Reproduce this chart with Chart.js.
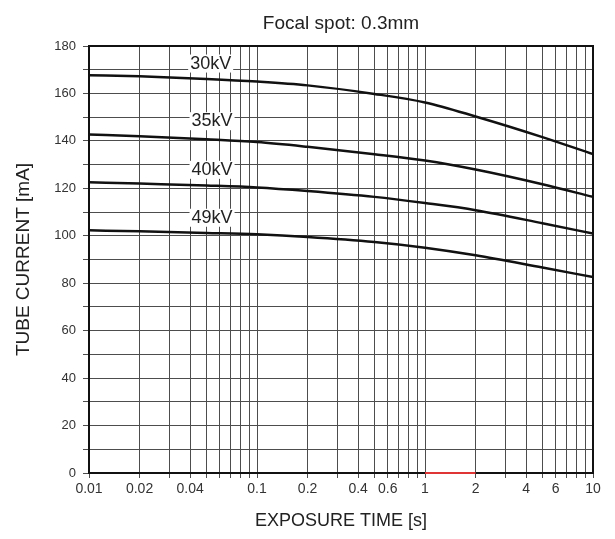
<!DOCTYPE html>
<html>
<head>
<meta charset="utf-8">
<script src="https://cdn.jsdelivr.net/npm/chart.js@4.4.1/dist/chart.umd.min.js"></script>
<style>
  html,body{margin:0;padding:0;background:#fff;}
</style>
</head>
<body>
<canvas id="chart" width="615" height="539"></canvas>
<script>
// exposure time [s] and tube current [mA]
const times = [0.01, 0.02, 0.05, 0.1, 0.2, 0.5, 1, 2, 5, 10];
const kv30 = [167.7, 167.2, 166.1, 165.0, 163.4, 159.8, 156.2, 150.3, 141.6, 134.4];
const kv35 = [142.7, 142, 140.7, 139.5, 137.5, 134.4, 131.7, 127.9, 121.7, 116.4];
const kv40 = [122.6, 122, 121.2, 120.4, 118.9, 116.4, 113.8, 110.8, 105.3, 100.9];
const kv49 = [102.3, 101.9, 101.2, 100.6, 99.5, 97.4, 95, 91.8, 86.6, 82.6];
const seriesNames = ['30kV', '35kV', '40kV', '49kV'];
const labelTimes = [0.053, 0.054, 0.054, 0.054];
const labelCurrents = [172.6, 148.3, 127.8, 107.6];
const xTickLabels = [0.01, 0.02, 0.04, 0.1, 0.2, 0.4, 0.6, 1, 2, 4, 6, 10];
const redMarkX = [1, 2];
const redMarkY = [0, 0];

const FONT = '"Liberation Sans", Arial, sans-serif';

// log grid: 1..9 per decade
const xGrid = [];
[0.01, 0.1, 1].forEach(d => { for (let m = 1; m <= 9; m++) xGrid.push(+(m * d).toFixed(3)); });
xGrid.push(10);

const pts = (ys) => times.map((t, i) => ({x: t, y: ys[i]}));
const curve = (label, ys) => ({
  label, data: pts(ys), borderColor: '#111', borderWidth: 2.5,
  pointRadius: 0, cubicInterpolationMode: 'monotone', fill: false
});

// frame + curve labels drawn under the curves
const decor = {
  id: 'decor',
  beforeDatasetsDraw(chart){
    const {ctx, chartArea:a, scales:{x, y}} = chart;
    ctx.save();
    ctx.strokeStyle = '#111'; ctx.lineWidth = 2;
    ctx.strokeRect(a.left, a.top, a.right - a.left, a.bottom - a.top);
    ctx.font = '18px ' + FONT;
    ctx.textAlign = 'center'; ctx.textBaseline = 'middle';
    seriesNames.forEach((t, i) => {
      const px = x.getPixelForValue(labelTimes[i]), py = y.getPixelForValue(labelCurrents[i]);
      const w = ctx.measureText(t).width;
      ctx.fillStyle = '#fff';
      ctx.fillRect(px - w/2 - 2, py - 9, w + 4, 18);
      ctx.fillStyle = '#222';
      ctx.fillText(t, px, py);
    });
    ctx.restore();
  }
};

new Chart(document.getElementById('chart'), {
  type: 'line',
  data: {
    datasets: [
      curve(seriesNames[0], kv30),
      curve(seriesNames[1], kv35),
      curve(seriesNames[2], kv40),
      curve(seriesNames[3], kv49),
      { label: 'mark', data: redMarkX.map((v, i) => ({x: v, y: redMarkY[i]})),
        borderColor: '#e03535', borderWidth: 2, pointRadius: 0, clip: false }
    ]
  },
  options: {
    responsive: false, animation: false, devicePixelRatio: 1,
    layout: { padding: { left: 0, right: 22, top: 0, bottom: 0 } },
    plugins: {
      legend: { display: false },
      tooltip: { enabled: false },
      title: {
        display: true, text: 'Focal spot: 0.3mm', fullSize: false, color: '#222',
        font: { family: FONT, size: 19, weight: 'normal' },
        padding: { top: 12.6, bottom: 10.6 }
      }
    },
    scales: {
      x: {
        type: 'logarithmic', min: 0.01, max: 10,
        afterBuildTicks: s => { s.ticks = xGrid.map(v => ({value: v})); },
        afterFit: s => { s.height = 66; },
        ticks: {
          autoSkip: false, maxRotation: 0, minRotation: 0, padding: 3,
          color: '#333', font: { family: FONT, size: 14 },
          callback: v => xTickLabels.includes(v) ? String(v) : ''
        },
        grid: { color: '#4d4d4d', lineWidth: 1, tickLength: 5 },
        border: { color: '#111', width: 2 },
        title: {
          display: true, text: 'EXPOSURE TIME [s]', color: '#222',
          font: { family: FONT, size: 18 }, padding: { top: 0, bottom: 7 }
        }
      },
      y: {
        min: 0, max: 180,
        afterFit: s => { s.width = 89; },
        ticks: {
          stepSize: 10, padding: 7, color: '#333', font: { family: FONT, size: 13 },
          callback: v => v % 20 === 0 ? v : ''
        },
        grid: { color: '#4d4d4d', lineWidth: 1, tickLength: 6 },
        border: { color: '#111', width: 2 },
        title: {
          display: true, text: 'TUBE CURRENT [mA]', color: '#222',
          font: { family: FONT, size: 19 }, padding: { top: 12.6, bottom: 0 }
        }
      }
    }
  },
  plugins: [decor]
});
</script>
</body>
</html>
